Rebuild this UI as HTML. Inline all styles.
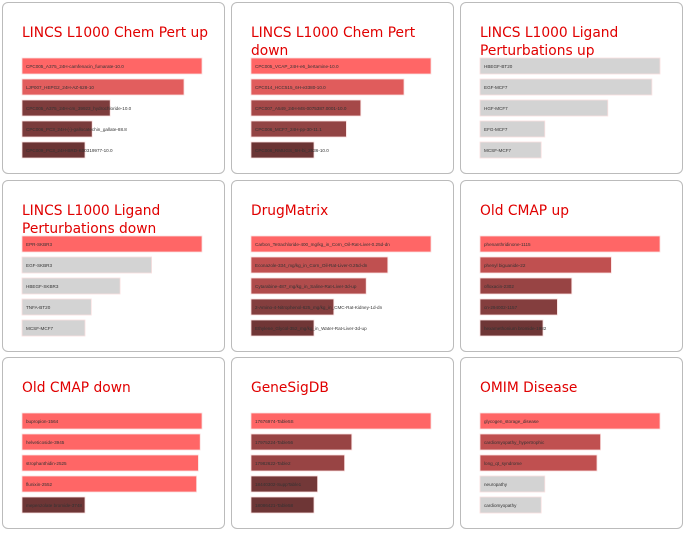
<!DOCTYPE html>
<html><head><meta charset="utf-8">
<style>
body{margin:0;width:687px;height:533px;background:#fff;position:relative;overflow:hidden;font-family:"Liberation Sans","DejaVu Sans",sans-serif;}
.panel{position:absolute;width:223px;height:172px;border:1px solid #bbb;border-radius:6px;box-sizing:border-box;background:#fff;}
.panel svg{position:absolute;left:0;top:0;}
</style></head><body>
<div id="root"></div>
<script>
const titles=[["LINCS L1000 Chem Pert up"],["LINCS L1000 Chem Pert","down"],["LINCS L1000 Ligand","Perturbations up"],["LINCS L1000 Ligand","Perturbations down"],["DrugMatrix"],["Old CMAP up"],["Old CMAP down"],["GeneSigDB"],["OMIM Disease"]];
const labels=[
["CPC005_A375_24H-camfenacin_fumarate-10.0","LJP007_HEPG2_24H-AZ-628-10","CPC005_A375_24H-cm_39923_hydrochloride-10.0","CPC006_PC3_24H-(-)-gallocatechin_gallate-88.8","CPC009_PC3_24H-BRD-K00319977-10.0"],
["CPC005_VCAP_24H-e6_bertamine-10.0","CPC014_HCC515_6H-e3380-10.0","CPC007_A549_24H-MS-0075387.0001-10.0","CPC006_MCF7_24H-pp-30-11.1","CPC006_RMUGS_6H-bi_2536-10.0"],
["HBEGF-BT20","EGF-MCF7","HGF-MCF7","EFG-MCF7","MCSF-MCF7"],
["EPR-SKBR3","EGF-SKBR3","HBEGF-SKBR3","TNFA-BT20","MCSF-MCF7"],
["Carbon_Tetrachloride-400_mg/kg_in_Corn_Oil-Rat-Liver-0.25d-dn","Econazole-334_mg/kg_in_Corn_Oil-Rat-Liver-0.25d-dn","Cytarabine-487_mg/kg_in_Saline-Rat-Liver-3d-up","2-Amino-4-Nitrophenol-625_mg/kg_in_CMC-Rat-Kidney-1d-dn","Ethylene_Glycol-352_mg/kg_in_Water-Rat-Liver-3d-up"],
["phenanthridinone-1115","phenyl biguanide-22","ofloxacin-2302","cn-294002-1157","hexamethonium bromide-1982"],
["bupropion-1564","helveticoside-3945","strophanthidin-2525","flunixin-2552","mepenzolate bromide-3748"],
["17676974-Table5S","17975224-Table56","17982622-Table2","18440302-SuppTable1","18086421-Table58"],
["glycogen_storage_disease","cardiomyopathy_hypertrophic","long_qt_syndrome","neuropathy","cardiomyopathy"]];
const values=[[1,0.9,0.49,0.39,0.35],[1,0.85,0.61,0.53,0.35],[1,0.955,0.71,0.36,0.34],[1,0.72,0.545,0.385,0.35],[1,0.76,0.64,0.46,0.35],[1,0.73,0.51,0.43,0.35],[1,0.99,0.98,0.97,0.35],[1,0.56,0.52,0.37,0.35],[1,0.67,0.65,0.36,0.34]];
const colors=[["#ff6666","#e25e5e","#7d3c3c","#7a3b3b","#6b3434"],["#ff6666","#e05c5c","#a54848","#924444","#6b3434"],["#d3d3d3","#d3d3d3","#d3d3d3","#d3d3d3","#d3d3d3"],["#ff6666","#d3d3d3","#d3d3d3","#d3d3d3","#d3d3d3"],["#ff6666","#c05050","#b04c4c","#843e3e","#703636"],["#ff6666","#c05050","#984444","#843e3e","#6e3636"],["#ff6666","#ff6666","#ff6666","#ff6666","#6e3636"],["#ff6666","#984444","#984444","#733838","#6e3636"],["#ff6666","#c05050","#c05050","#d3d3d3","#d3d3d3"]];
const colX=[2,231,460],rowY=[2,180,357];
const NS="http://www.w3.org/2000/svg";
const root=document.getElementById('root');
const xScale=v=>v*180, yPos=i=>55+i*21;
titles.forEach((t,p)=>{
  const d=document.createElement('div');d.className='panel';
  
  
  d.style.left=colX[p%3]+'px';d.style.top=rowY[Math.floor(p/3)]+'px';
  const s=document.createElementNS(NS,'svg');s.setAttribute('width',223);s.setAttribute('height',172);
  t.forEach((line,li)=>{
    const tx=document.createElementNS(NS,'text');
    
    
    tx.setAttribute('x',19);tx.setAttribute('y',34+li*18);tx.setAttribute('fill','#e00000');
    tx.setAttribute('font-size','13.8');tx.setAttribute('font-family','"DejaVu Sans","Liberation Sans",sans-serif');
    tx.textContent=line;s.appendChild(tx);
  });
  values[p].forEach((v,i)=>{
    const r=document.createElementNS(NS,'rect');
    
    
    r.setAttribute('x',19);r.setAttribute('y',yPos(i));r.setAttribute('width',xScale(v));r.setAttribute('height',16);
    r.setAttribute('fill',colors[p][i]);r.setAttribute('stroke','#fbe0e0');r.setAttribute('stroke-width','0.8');
    s.appendChild(r);
    const l=document.createElementNS(NS,'text');
    
    
    l.setAttribute('x',23);l.setAttribute('y',yPos(i)+10);l.setAttribute('font-size','4.6');l.setAttribute('fill','#333');
    l.textContent=labels[p][i];s.appendChild(l);
  });
  d.appendChild(s);root.appendChild(d);
});
</script>
</body></html>
